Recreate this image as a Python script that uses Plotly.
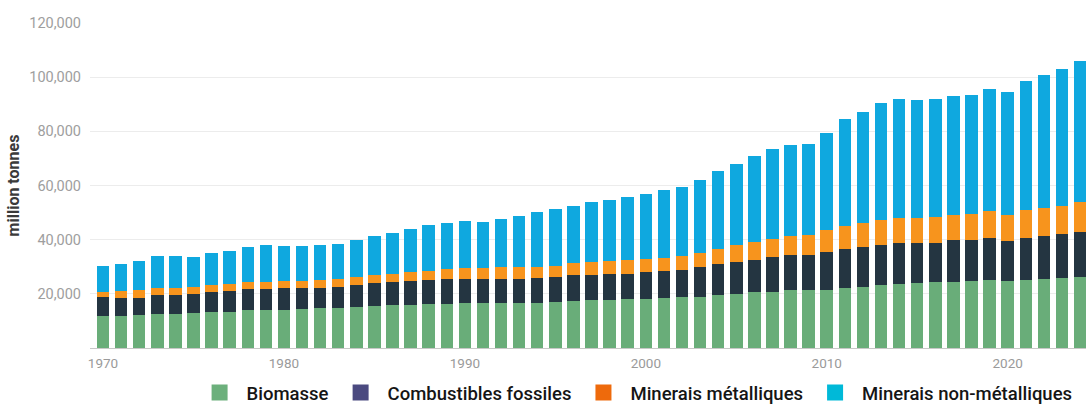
import plotly.graph_objects as go

years = list(range(1970, 2025))

biomasse = [
    11950, 12000, 12050, 12650, 12700, 12750, 13200, 13450, 13900, 14050,
    14100, 14400, 14650, 14700, 15300, 15550, 15900, 15950, 16150, 16300,
    16500, 16550, 16550, 16600, 16800, 16900, 17400, 17550, 17800, 18000,
    18150, 18400, 18750, 19000, 19600, 20000, 20500, 20850, 21250, 21450,
    21500, 22100, 22700, 23300, 23600, 23950, 24200, 24550, 24800, 25200,
    24600, 25200, 25450, 25800, 26150,
]
fossiles = [
    6800, 6350, 6550, 6900, 6900, 7250, 7500, 7550, 7800, 7800,
    8000, 7700, 7650, 7800, 8050, 8400, 8300, 8650, 9000, 9150,
    9150, 8900, 8900, 8850, 8900, 9150, 9500, 9400, 9400, 9400,
    9750, 9850, 9900, 10850, 11500, 11850, 11850, 12700, 13200, 13000,
    13950, 14550, 14600, 14800, 15200, 14800, 14600, 15200, 15200, 15450,
    14800, 15450, 16050, 16400, 16550,
]
metalliques = [
    2100, 2800, 2700, 2500, 2500, 2700, 2500, 2500, 2600, 2700,
    2500, 2700, 2850, 2950, 2850, 3100, 3200, 3300, 3100, 3700,
    3850, 4050, 4450, 4450, 4200, 4350, 4450, 4700, 5050, 4950,
    4950, 4950, 5450, 5200, 5550, 6050, 6650, 6700, 7050, 7400,
    8000, 8500, 8900, 9000, 9250, 9250, 9600, 9500, 9650, 9900,
    9850, 10250, 10250, 10400, 11100,
]
non_metalliques = [
    9550, 10050, 10800, 12050, 12000, 10900, 11900, 12400, 13000, 13350,
    13000, 12700, 12750, 13050, 13800, 14450, 15100, 16100, 17050, 17150,
    17400, 16900, 17900, 18700, 20200, 21000, 21250, 22150, 22550, 23550,
    24150, 25000, 25300, 26850, 28650, 29900, 31900, 33350, 33300, 33350,
    36050, 39250, 41000, 43300, 43850, 43500, 43450, 43850, 43850, 45050,
    45350, 47800, 49050, 50600, 52300,
]

series_names = ["Biomasse", "Combustibles fossiles", "Minerais métalliques", "Minerais non-métalliques"]
bar_colors = ["#69ad79", "#243541", "#f7941d", "#0fa8df"]
legend_colors = ["#6cb07c", "#4b4a80", "#ee6a0c", "#00b9d8"]

y_tick_values = [20000, 40000, 60000, 80000, 100000, 120000]
y_tick_labels = ["20,000", "40,000", "60,000", "80,000", "100,000", "120,000"]
x_tick_values = [1970, 1980, 1990, 2000, 2010, 2020]
x_tick_labels = ["1970", "1980", "1990", "2000", "2010", "2020"]

fig = go.Figure()
for name, vals, col in zip(series_names, [biomasse, fossiles, metalliques, non_metalliques], bar_colors):
    fig.add_trace(go.Bar(x=years, y=vals, name=name, marker=dict(color=col, line=dict(width=0)),
                         showlegend=False))

for name, col in zip(series_names, legend_colors):
    fig.add_trace(go.Scatter(x=[None], y=[None], mode="markers", name=name,
                             marker=dict(symbol="square", size=18, color=col), showlegend=True))

fig.update_layout(
    width=1086, height=405,
    margin=dict(l=90, r=0, t=23, b=57, autoexpand=False),
    barmode="stack", bargap=0.31,
    plot_bgcolor="white", paper_bgcolor="white",
    font=dict(family="Roboto, 'Open Sans', sans-serif"),
    showlegend=True,
    legend=dict(orientation="h", x=0.103, xanchor="left", y=-0.1385, yanchor="middle",
                font=dict(family="Roboto, sans-serif", size=18.5, color="#151515", weight=500),
                bgcolor="rgba(0,0,0,0)", traceorder="normal", itemwidth=44),
    xaxis=dict(range=[1969.28, 2024.33], tickmode="array", tickvals=x_tick_values, ticktext=x_tick_labels,
               showgrid=False, showline=True, linecolor="#c8c8c8", linewidth=1, ticks="",
               tickfont=dict(size=13.5, color="#9a9a9a"), ticklabelstandoff=3, zeroline=False,
               automargin=False),
    yaxis=dict(range=[0, 120000], tickmode="array", tickvals=y_tick_values, ticktext=y_tick_labels,
               showgrid=True, gridcolor="#ececec", gridwidth=1, showline=False, zeroline=False, ticks="",
               tickfont=dict(size=14.5, color="#9e9e9e"), ticklabelstandoff=8, automargin=False,
               title=dict(text="million tonnes", font=dict(size=16, color="#3a3a3a", weight="bold"),
                          standoff=5)),
)

fig.write_html("out.html", config={"displayModeBar": False},
               post_script="document.body.style.margin='0';document.body.style.overflow='hidden';")
